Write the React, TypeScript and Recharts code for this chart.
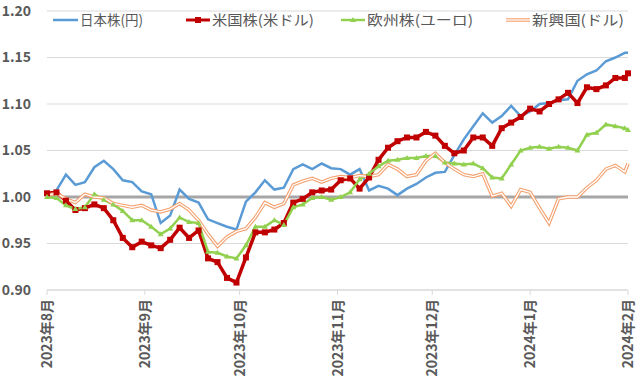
import React from "react";
import {
  LineChart,
  Line,
  XAxis,
  YAxis,
  CartesianGrid,
  ReferenceLine,
  Legend,
} from "recharts";

document.body.style.margin = "0";

// days since 2023-08-01, sampled every 3 days
const dayOffsets = [
  0, 3, 6, 9, 12, 15, 18, 21, 24, 27, 30, 33, 36, 39, 42, 45, 48, 51, 54, 57,
  60, 63, 66, 69, 72, 75, 78, 81, 84, 87, 90, 93, 96, 99, 102, 105, 108, 111,
  114, 117, 120, 123, 126, 129, 132, 135, 138, 141, 144, 147, 150, 153, 156,
  159, 162, 165, 168, 171, 174, 177, 180, 183, 184,
];

const monthTicks = [0, 31, 61, 92, 122, 153, 184];
const monthLabels = [
  "2023年8月",
  "2023年9月",
  "2023年10月",
  "2023年11月",
  "2023年12月",
  "2024年1月",
  "2024年2月",
];

const yTicks = [0.9, 0.95, 1.0, 1.05, 1.1, 1.15, 1.2];

const seriesNames = ["日本株(円)", "米国株(米ドル)", "欧州株(ユーロ)", "新興国(ドル)"];

const japan = [
  1.0, 1.007, 1.024, 1.013, 1.016, 1.032, 1.039, 1.03, 1.018, 1.016,
  1.006, 1.003, 0.972, 0.98, 1.008, 0.998, 0.994, 0.976, 0.972, 0.968,
  0.965, 0.995, 1.005, 1.018, 1.008, 1.01, 1.03, 1.035, 1.03, 1.036,
  1.031, 1.03, 1.024, 1.03, 1.007, 1.012, 1.009, 1.002, 1.009, 1.014,
  1.021, 1.026, 1.027, 1.045, 1.062, 1.076, 1.09, 1.08, 1.087, 1.098,
  1.087, 1.092, 1.1, 1.101, 1.104, 1.105, 1.125, 1.132, 1.136, 1.146,
  1.15, 1.155, 1.155,
];

const us = [
  1.004, 1.005, 0.996, 0.986, 0.988, 0.992, 0.988, 0.975, 0.956, 0.946,
  0.952, 0.948, 0.945, 0.954, 0.967, 0.956, 0.964, 0.934, 0.93, 0.913,
  0.908, 0.935, 0.962, 0.962, 0.965, 0.972, 0.994, 0.998, 1.005, 1.007,
  1.008, 1.018, 1.02, 1.009, 1.021, 1.04, 1.053, 1.06, 1.064, 1.064,
  1.07, 1.066, 1.055, 1.047, 1.05, 1.064, 1.064, 1.055, 1.074, 1.08,
  1.086, 1.095, 1.092, 1.1, 1.105, 1.112, 1.101, 1.118, 1.116, 1.12,
  1.128, 1.128, 1.133,
];

const europe = [
  1.0, 0.999, 0.991, 0.987, 0.989, 1.003, 0.997, 0.992, 0.985, 0.975,
  0.975, 0.968, 0.96, 0.966, 0.978, 0.973, 0.972, 0.941, 0.94, 0.936,
  0.934, 0.948, 0.968, 0.968, 0.975, 0.97, 0.989, 0.992, 0.999, 1.0,
  0.997, 1.0, 1.005, 1.019, 1.025, 1.033, 1.039, 1.04, 1.042, 1.042,
  1.044, 1.044, 1.037, 1.036, 1.035, 1.036, 1.031, 1.021, 1.02, 1.035,
  1.05, 1.053, 1.054, 1.052, 1.054, 1.053, 1.05, 1.067, 1.069, 1.078,
  1.076, 1.074, 1.072,
];

const emerging = [
  1.002, 1.004, 0.998, 0.994, 1.003, 1.0, 0.999, 0.993, 0.991, 0.989,
  0.991, 0.986, 0.984, 0.987, 0.993, 0.986, 0.975, 0.96, 0.947, 0.957,
  0.963, 0.966, 0.978, 0.994, 0.989, 0.993, 1.013, 1.017, 1.02, 1.016,
  1.02, 1.022, 1.021, 1.023, 1.022, 1.024, 1.035, 1.03, 1.022, 1.024,
  1.039, 1.047, 1.037, 1.03, 1.024, 1.022, 1.025, 1.001, 1.004, 0.99,
  1.008, 1.005, 0.988, 0.972, 0.998, 1.0, 1.0, 1.01, 1.018, 1.03,
  1.034, 1.027, 1.036,
];

const data = dayOffsets.map((day, i) => ({
  day,
  japan: japan[i],
  us: us[i],
  europe: europe[i],
  emerging: emerging[i],
}));

const BLUE = "#5b9bd5";
const RED = "#c00000";
const GREEN = "#92d050";
const ORANGE = "#f4a06e";
const TEXT = "#595959";
const FONT = "'Noto Sans CJK JP', 'Noto Sans', sans-serif";

function SquareDot(props: any) {
  const { cx, cy, index } = props;
  if (cx == null || cy == null) return null;
  return <rect key={`sq-${index}`} x={cx - 3} y={cy - 3} width={6} height={6} fill={RED} />;
}

function TriangleDot(props: any) {
  const { cx, cy, index } = props;
  if (cx == null || cy == null) return null;
  return (
    <path
      key={`tri-${index}`}
      d={`M${cx},${cy - 3} L${cx + 3},${cy + 2} L${cx - 3},${cy + 2} Z`}
      fill={GREEN}
    />
  );
}

function MonthTick(props: any) {
  const { x, y, payload } = props;
  const label = monthLabels[monthTicks.indexOf(payload.value)];
  return (
    <g transform={`translate(${x},${y})`}>
      <text
        transform="rotate(-90)"
        x={-2}
        y={0}
        dy={5}
        textAnchor="end"
        fill={TEXT}
        fontSize={14}
        fontWeight="bold"
        fontFamily={FONT}
      >
        {label}
      </text>
    </g>
  );
}

// legend layout (pixel positions of each entry)
const legendPos = [
  { x1: 53, x2: 78, tx: 80, len: 63 },
  { x1: 186, x2: 210, tx: 212, len: 102 },
  { x1: 341, x2: 365, tx: 367, len: 106 },
  { x1: 506, x2: 530, tx: 532, len: 92 },
];

function ChartLegend() {
  const y = 20;
  return (
    <svg width={640} height={32} style={{ display: "block" }}>
      {seriesNames.map((name, i) => {
        const p = legendPos[i];
        const mid = (p.x1 + p.x2) / 2;
        return (
          <g key={name}>
            {i === 0 && <line x1={p.x1} x2={p.x2} y1={y} y2={y} stroke={BLUE} strokeWidth={2.5} />}
            {i === 1 && (
              <>
                <line x1={p.x1} x2={p.x2} y1={y} y2={y} stroke={RED} strokeWidth={3} />
                <rect x={mid - 3} y={y - 3} width={6} height={6} fill={RED} />
              </>
            )}
            {i === 2 && (
              <>
                <line x1={p.x1} x2={p.x2} y1={y} y2={y} stroke={GREEN} strokeWidth={2.5} />
                <path d={`M${mid},${y - 3} L${mid + 3},${y + 2} L${mid - 3},${y + 2} Z`} fill={GREEN} />
              </>
            )}
            {i === 3 && (
              <>
                <line x1={p.x1} x2={p.x2} y1={y} y2={y} stroke={ORANGE} strokeWidth={3.5} />
                <line x1={p.x1} x2={p.x2} y1={y} y2={y} stroke="#fff" strokeWidth={1.3} />
              </>
            )}
            <text
              x={p.tx}
              y={y + 5}
              fontSize={14}
              fill={TEXT}
              fontFamily={FONT}
              textLength={p.len}
              lengthAdjust="spacingAndGlyphs"
            >
              {name}
            </text>
          </g>
        );
      })}
    </svg>
  );
}

export default function App() {
  return (
    <div style={{ width: 640, height: 382, background: "#fff", fontFamily: FONT }}>
      <LineChart
        width={640}
        height={382}
        data={data}
        margin={{ top: 11, right: 12, left: 0, bottom: 0 }}
      >
        <CartesianGrid vertical={false} stroke="#d9d9d9" />
        <XAxis
          type="number"
          dataKey="day"
          domain={[0, 184]}
          ticks={monthTicks}
          interval={0}
          height={92}
          stroke="#d9d9d9"
          tickSize={5}
          tickMargin={2}
          tick={<MonthTick />}
        />
        <YAxis
          domain={[0.9, 1.2]}
          ticks={yTicks}
          width={47}
          axisLine={false}
          tickLine={false}
          tickSize={0}
          tickMargin={16}
          tickFormatter={(v: number) => v.toFixed(2)}
          tick={{ fill: TEXT, fontSize: 14, fontWeight: "bold", fontFamily: FONT }}
        />
        <ReferenceLine y={1} stroke="#a6a6a6" strokeWidth={3} />
        <Legend
          layout="horizontal"
          verticalAlign="middle"
          align="center"
          wrapperStyle={{ top: 0, left: 0, width: 640 }}
          content={() => <ChartLegend />}
        />
        <Line
          type="linear"
          dataKey="japan"
          name={seriesNames[0]}
          stroke={BLUE}
          strokeWidth={2.5}
          dot={false}
          isAnimationActive={false}
        />
        <Line
          type="linear"
          dataKey="us"
          name={seriesNames[1]}
          stroke={RED}
          strokeWidth={3.5}
          dot={SquareDot}
          isAnimationActive={false}
        />
        <Line
          type="linear"
          dataKey="europe"
          name={seriesNames[2]}
          stroke={GREEN}
          strokeWidth={2.5}
          dot={TriangleDot}
          isAnimationActive={false}
        />
        <Line
          type="linear"
          dataKey="emerging"
          name={seriesNames[3]}
          stroke={ORANGE}
          strokeWidth={3.5}
          dot={false}
          isAnimationActive={false}
        />
        <Line
          type="linear"
          dataKey="emerging"
          legendType="none"
          stroke="#ffffff"
          strokeWidth={1.3}
          dot={false}
          isAnimationActive={false}
        />
      </LineChart>
    </div>
  );
}
